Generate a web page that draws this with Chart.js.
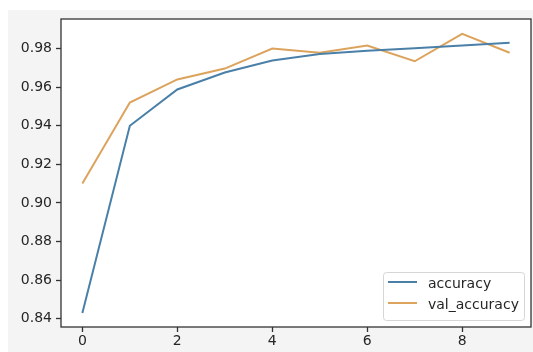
<!DOCTYPE html>
<html>
<head>
<meta charset="utf-8">
<script src="https://cdn.jsdelivr.net/npm/chart.js@4/dist/chart.umd.min.js"></script>
<style>
html,body{margin:0;padding:0;background:#ffffff;}
#wrap{width:533px;height:352px;position:relative;}
</style>
</head>
<body>
<div id="wrap"><canvas id="c" width="533" height="352"></canvas></div>
<script>
const epochs = [0, 1, 2, 3, 4, 5, 6, 7, 8, 9];
const accuracy = [0.843, 0.940, 0.9588, 0.9676, 0.9738, 0.9772, 0.9788, 0.9802, 0.9816, 0.9830];
const valAccuracy = [0.910, 0.952, 0.964, 0.9696, 0.980, 0.9778, 0.9815, 0.9734, 0.9876, 0.9778];
const xTicks = [0, 2, 4, 6, 8];
const yTicks = [0.84, 0.86, 0.88, 0.90, 0.92, 0.94, 0.96, 0.98];
const seriesNames = ['accuracy', 'val_accuracy'];

const FONT = '"DejaVu Sans", sans-serif';

const bgPlugin = {
  id: 'bg',
  beforeDraw(chart) {
    const ctx = chart.ctx;
    ctx.save();
    ctx.fillStyle = '#ffffff';
    ctx.fillRect(0, 0, chart.width, chart.height);
    ctx.fillStyle = '#f4f4f4';
    ctx.fillRect(8, 10, chart.width - 8, chart.height - 10);
    const a = chart.chartArea;
    ctx.fillStyle = '#ffffff';
    ctx.fillRect(a.left, a.top, a.right - a.left, a.bottom - a.top);
    ctx.restore();
  },
  afterDraw(chart) {
    const ctx = chart.ctx;
    const a = chart.chartArea;
    ctx.save();
    ctx.strokeStyle = '#333333';
    ctx.lineWidth = 1.3;
    ctx.strokeRect(a.left, a.top, a.right - a.left, a.bottom - a.top);
    // legend
    const bx = 383, by = 272, bw = 141, bh = 48;
    ctx.fillStyle = 'rgba(255,255,255,0.85)';
    ctx.strokeStyle = '#d6d6d6';
    ctx.lineWidth = 1;
    ctx.beginPath();
    if (ctx.roundRect) ctx.roundRect(bx + 0.5, by + 0.5, bw, bh, 3); else ctx.rect(bx + 0.5, by + 0.5, bw, bh);
    ctx.fill();
    ctx.stroke();
    ctx.font = '14px ' + FONT;
    ctx.textBaseline = 'middle';
    chart.data.datasets.forEach((ds, i) => {
      const y = by + 10 + i * 21;
      ctx.strokeStyle = ds.borderColor;
      ctx.lineWidth = 2;
      ctx.beginPath();
      ctx.moveTo(bx + 5, y);
      ctx.lineTo(bx + 34, y);
      ctx.stroke();
      ctx.fillStyle = '#262626';
      ctx.fillText(ds.label, bx + 45, y + 2);
    });
    ctx.restore();
  }
};

new Chart(document.getElementById('c'), {
  type: 'line',
  data: {
    datasets: [
      {
        label: seriesNames[0],
        data: epochs.map((e, i) => ({ x: e, y: accuracy[i] })),
        borderColor: '#4a80a8',
        borderWidth: 2,
        pointRadius: 0,
        tension: 0,
        fill: false
      },
      {
        label: seriesNames[1],
        data: epochs.map((e, i) => ({ x: e, y: valAccuracy[i] })),
        borderColor: '#dca35c',
        borderWidth: 2,
        pointRadius: 0,
        tension: 0,
        fill: false
      }
    ]
  },
  options: {
    responsive: false,
    animation: false,
    devicePixelRatio: 1,
    layout: { padding: { left: 0, right: 2, top: 19, bottom: 0 } },
    plugins: { legend: { display: false }, tooltip: { enabled: false } },
    scales: {
      x: {
        type: 'linear',
        min: -0.45,
        max: 9.45,
        afterBuildTicks(scale) { scale.ticks = xTicks.map(v => ({ value: v })); },
        afterFit(scale) { scale.height = 25; },
        grid: { display: true, drawOnChartArea: false, drawTicks: true, tickLength: 5, color: '#333333', tickWidth: 1.3 },
        border: { display: false },
        ticks: { color: '#262626', font: { family: FONT, size: 14 }, padding: 1, maxRotation: 0, callback: v => String(v) }
      },
      y: {
        type: 'linear',
        min: 0.8357,
        max: 0.9953,
        afterBuildTicks(scale) { scale.ticks = yTicks.map(v => ({ value: v })); },
        afterFit(scale) { scale.width = 61; },
        grid: { display: true, drawOnChartArea: false, drawTicks: true, tickLength: 5, color: '#333333', tickWidth: 1.3 },
        border: { display: false },
        ticks: { color: '#262626', font: { family: FONT, size: 14 }, padding: 4, callback: v => v.toFixed(2) }
      }
    }
  },
  plugins: [bgPlugin]
});
</script>
</body>
</html>
